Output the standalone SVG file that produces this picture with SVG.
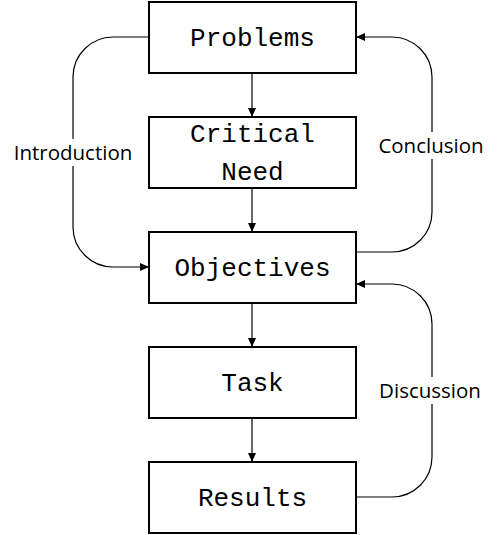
<svg xmlns="http://www.w3.org/2000/svg" width="497" height="535" viewBox="0 0 497 535">
<defs>
<marker id="ah" markerWidth="9" markerHeight="8" refX="9" refY="4" orient="auto" markerUnits="userSpaceOnUse">
<path d="M0,0 L9,4 L0,8 Z" fill="#000"/>
</marker>
<style>
.box{fill:#fff;stroke:#000;stroke-width:2}
.t{font-family:"Liberation Mono",monospace;font-size:26px;text-anchor:middle;fill:#000}
.c{fill:none;stroke:#000;stroke-width:1.2}
.lb{font-family:"Open Sans","Liberation Sans",sans-serif;font-size:20.5px;text-anchor:middle;fill:#000}
.bg{fill:#fff}
</style>
</defs>
<rect width="497" height="535" fill="#fff"/>
<g id="connectors">
<path class="c" d="M252,73 V117" marker-end="url(#ah)"/>
<path class="c" d="M252,188 V232" marker-end="url(#ah)"/>
<path class="c" d="M252,303 V347" marker-end="url(#ah)"/>
<path class="c" d="M252,418 V462" marker-end="url(#ah)"/>
<path class="c" d="M149,37 H113 A40,40 0 0 0 73,77 V227 A40,40 0 0 0 113,267 H149" marker-end="url(#ah)"/>
<path class="c" d="M356,252 H392 A40,40 0 0 0 432,212 V77 A40,40 0 0 0 392,37 H356" marker-end="url(#ah)"/>
<path class="c" d="M356,497 H392 A40,40 0 0 0 432,457 V324 A40,40 0 0 0 392,284 H356" marker-end="url(#ah)"/>
<rect class="bg" x="11" y="139" width="125" height="27"/>
<text class="lb" x="73" y="160">Introduction</text>
<rect class="bg" x="376" y="132" width="111" height="27"/>
<text class="lb" x="431" y="153">Conclusion</text>
<rect class="bg" x="377" y="377" width="108" height="27"/>
<text class="lb" x="430" y="398">Discussion</text>
</g>
<g id="problems">
<rect class="box" x="149" y="2" width="207" height="71"/>
<text class="t" x="252.5" y="46">Problems</text>
</g>
<g id="critical-need">
<rect class="box" x="149" y="117" width="207" height="71"/>
<text class="t" x="252.5" y="142">Critical</text>
<text class="t" x="252.5" y="180">Need</text>
</g>
<g id="objectives">
<rect class="box" x="149" y="232" width="207" height="71"/>
<text class="t" x="252.5" y="276">Objectives</text>
</g>
<g id="task">
<rect class="box" x="149" y="347" width="207" height="71"/>
<text class="t" x="252.5" y="391">Task</text>
</g>
<g id="results">
<rect class="box" x="149" y="462" width="207" height="71"/>
<text class="t" x="252.5" y="506">Results</text>
</g>
</svg>
